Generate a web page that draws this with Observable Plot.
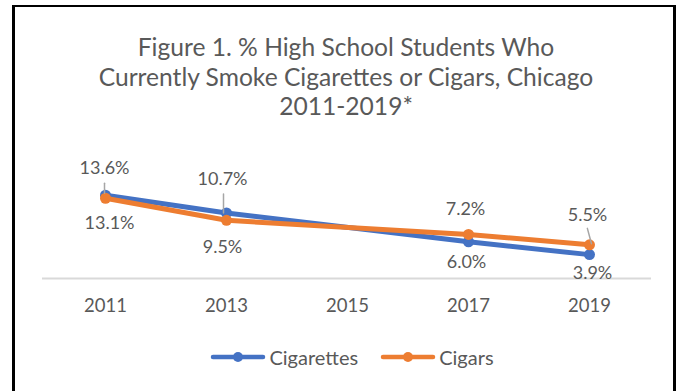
<!DOCTYPE html>
<html><head><meta charset="utf-8">
<script src="https://cdn.jsdelivr.net/npm/d3@7"></script>
<script src="https://cdn.jsdelivr.net/npm/@observablehq/plot@0.6"></script>
<style>
body{margin:0;background:#fff;width:678px;height:391px;overflow:hidden;position:relative;font-family:Lato,sans-serif;color:#595959}
#frame{position:absolute;left:12px;top:5px;width:658px;height:420px;border:3px solid #000;border-top-width:2px;border-bottom:none}
#title{position:absolute;left:0;top:32px;width:692px;text-align:center;font-size:24.6px;line-height:29.5px}
#chart{position:absolute;left:0;top:140px}
#legend{position:absolute;left:0;top:345px;width:704px;display:flex;justify-content:center;align-items:center;font-size:20px;gap:22px}
.item{display:flex;align-items:center;gap:3px}
</style></head>
<body>
<div id="frame"></div>
<div id="title">Figure 1. % High School Students Who<br>Currently Smoke Cigarettes or Cigars, Chicago<br>2011-2019*</div>
<div id="chart"></div>
<div id="legend"></div>
<script>
const years = ["2011","2013","2015","2017","2019"];
const cigarettes = [13.6, 10.7, null, 6.0, 3.9];
const cigars = [13.1, 9.5, null, 7.2, 5.5];
const seriesNames = ["Cigarettes","Cigars"];
const seriesValues = [cigarettes, cigars];
const colors = ["#4472C4","#ED7D31"];

// label placement (pixels, layout only)
const labelOffsets = [
  [[-1,-27],[-4,-34],null,[-2,20],[3,19]],
  [[4,25],[-4,27],null,[-3,-25],[-2,-30]]
];
// leader lines: [series, yearIndex, dx, dy, length, rotate]
const leaders = [[0,0,-1,-2,10,0],[0,1,-3,0,19,0],[1,4,2,-1,16,-15]];

const rows = seriesNames.flatMap((s,i)=>years.map((y,j)=>({series:s, year:y, value:seriesValues[i][j], si:i, yi:j}))).filter(d=>d.value!=null);

const marks = [Plot.ruleY([0],{stroke:"#D9D9D9",strokeWidth:2}), Plot.axisX({tickSize:0,tickPadding:20,fontSize:18.5,label:null})];
seriesNames.forEach((s,i)=>{
  const d = rows.filter(r=>r.series===s);
  marks.push(Plot.line(d,{x:"year",y:"value",stroke:colors[i],strokeWidth:5,strokeLinejoin:"round",strokeLinecap:"round"}));
  marks.push(Plot.dot(d,{x:"year",y:"value",fill:colors[i],r:5.5,stroke:"none"}));
});
leaders.forEach(([si,yi,dx,dy,len,rot])=>{
  const d = rows.filter(r=>r.si===si && r.yi===yi);
  marks.push(Plot.vector(d,{x:"year",y:"value",dx,dy,length:len,rotate:rot,anchor:"start",stroke:"#A6A6A6",strokeWidth:1.5,
    shape:{draw(ctx,l){ctx.moveTo(0,0);ctx.lineTo(0,-l);}}}));
});
rows.forEach(r=>{
  const [dx,dy] = labelOffsets[r.si][r.yi];
  marks.push(Plot.text([r],{x:"year",y:"value",text:d=>d.value.toFixed(1)+"%",dx,dy,fontSize:18,fill:"#595959"}));
});

const chart = Plot.plot({
  width:678, height:180,
  marginLeft:42, marginRight:27, marginTop:40, marginBottom:42,
  style:{fontFamily:"Lato, sans-serif", color:"#595959", background:"transparent", overflow:"visible"},
  x:{type:"point", domain:years, padding:0.5, label:null},
  y:{domain:[0,16], axis:null},
  marks
});
document.getElementById("chart").appendChild(chart);

const legend = document.getElementById("legend");
seriesNames.forEach((s,i)=>{
  const item = document.createElement("div");
  item.className="item";
  item.innerHTML = `<svg width="56" height="12"><line x1="3" y1="6" x2="53" y2="6" stroke="${colors[i]}" stroke-width="4.5" stroke-linecap="round"/><circle cx="28" cy="6" r="5" fill="${colors[i]}"/></svg><span>${s}</span>`;
  legend.appendChild(item);
});
</script>
</body></html>
